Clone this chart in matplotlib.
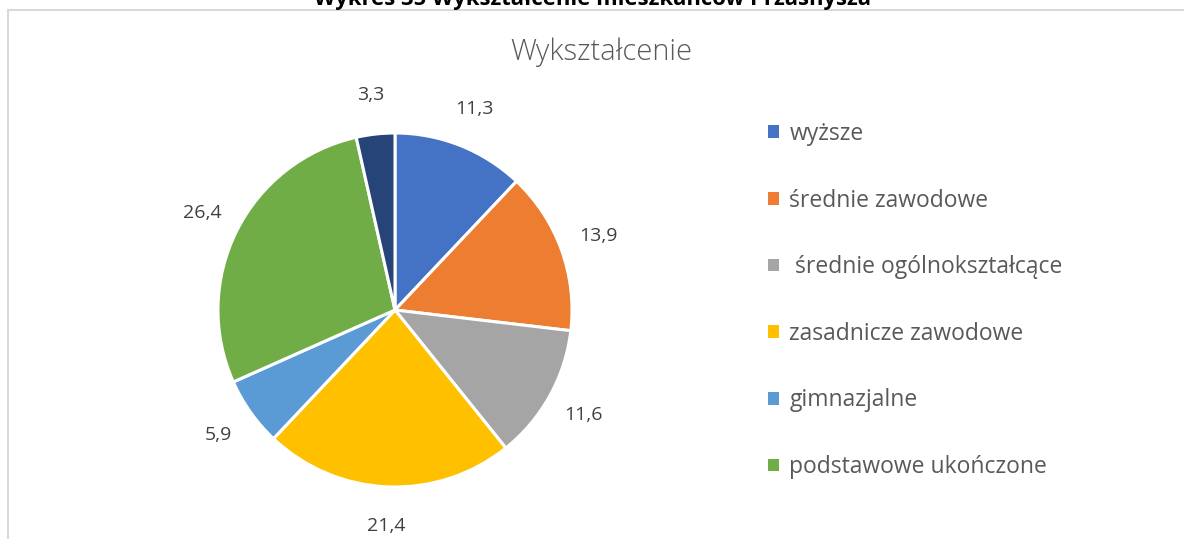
import matplotlib
matplotlib.use("Agg")
import matplotlib.pyplot as plt
from matplotlib.patches import Rectangle
import numpy as np

# Education structure of residents (%)
categories = ["wyższe", "średnie zawodowe", " średnie ogólnokształcące",
              "zasadnicze zawodowe", "gimnazjalne", "podstawowe ukończone",
              "inne"]
values = [11.3, 13.9, 11.6, 21.4, 5.9, 26.4, 3.3]
colors = ["#4472C4", "#ED7D31", "#A5A5A5", "#FFC000", "#5B9BD5", "#70AD47",
          "#264478"]
legend_count = 6

plt.rcParams["font.family"] = ["Open Sans", "DejaVu Sans"]

W, H = 1184, 539
fig = plt.figure(figsize=(W / 100, H / 100), dpi=100)
fig.patch.set_facecolor("white")

# Outer chart frame (extends past the right and bottom edges)
fig.patches.append(Rectangle((7.5 / W, -0.1), 1.2, 1 - 9.5 / H + 0.1,
                             transform=fig.transFigure, fill=False,
                             edgecolor="#D9D9D9", linewidth=1.5))

# Caption above the frame, partly cut by the image edge
fig.text(0.5, 1 - 5 / H, "Wykres 35 Wykształcenie mieszkańców Przasnysza",
         ha="center", va="baseline", fontsize=15.8, fontweight="bold",
         color="black")

# Pie axes: centre at (395, 310) px, radius ~177 px
cx, cy, r_px = 395, 310, 177
L = 1.35
S = 2 * L * r_px
ax = fig.add_axes([(cx - S / 2) / W, (H - cy - S / 2) / H, S / W, S / H])
wedges, _ = ax.pie(values, colors=colors, startangle=90, counterclock=False,
                   radius=1.0,
                   wedgeprops=dict(edgecolor="white", linewidth=2.2))
ax.set_xlim(-L, L)
ax.set_ylim(-L, L)
ax.set_aspect("equal")
ax.axis("off")

# Value labels outside each wedge
for w, v in zip(wedges, values):
    ang = np.deg2rad((w.theta1 + w.theta2) / 2)
    d = 1.22
    ax.text(d * np.cos(ang), d * np.sin(ang), f"{v:.1f}".replace(".", ","),
            ha="center", va="center", fontsize=14, color="#404040")

fig.text(601 / W, 1 - 52 / H, "Wykształcenie", ha="center", va="center",
         fontsize=21, color="#595959", fontweight="light")

# Legend
leg = fig.legend(wedges[:legend_count], categories[:legend_count],
                 loc="upper left", bbox_to_anchor=(768 / W, 1 - 122 / H),
                 frameon=False, fontsize=16.5, labelcolor="#595959",
                 handlelength=0.48, handleheight=0.48, handletextpad=0.45,
                 labelspacing=1.86, borderaxespad=0, borderpad=0)
for h in leg.legend_handles:
    h.set_edgecolor("none")

fig.savefig("out.png", dpi=100, facecolor="white")
